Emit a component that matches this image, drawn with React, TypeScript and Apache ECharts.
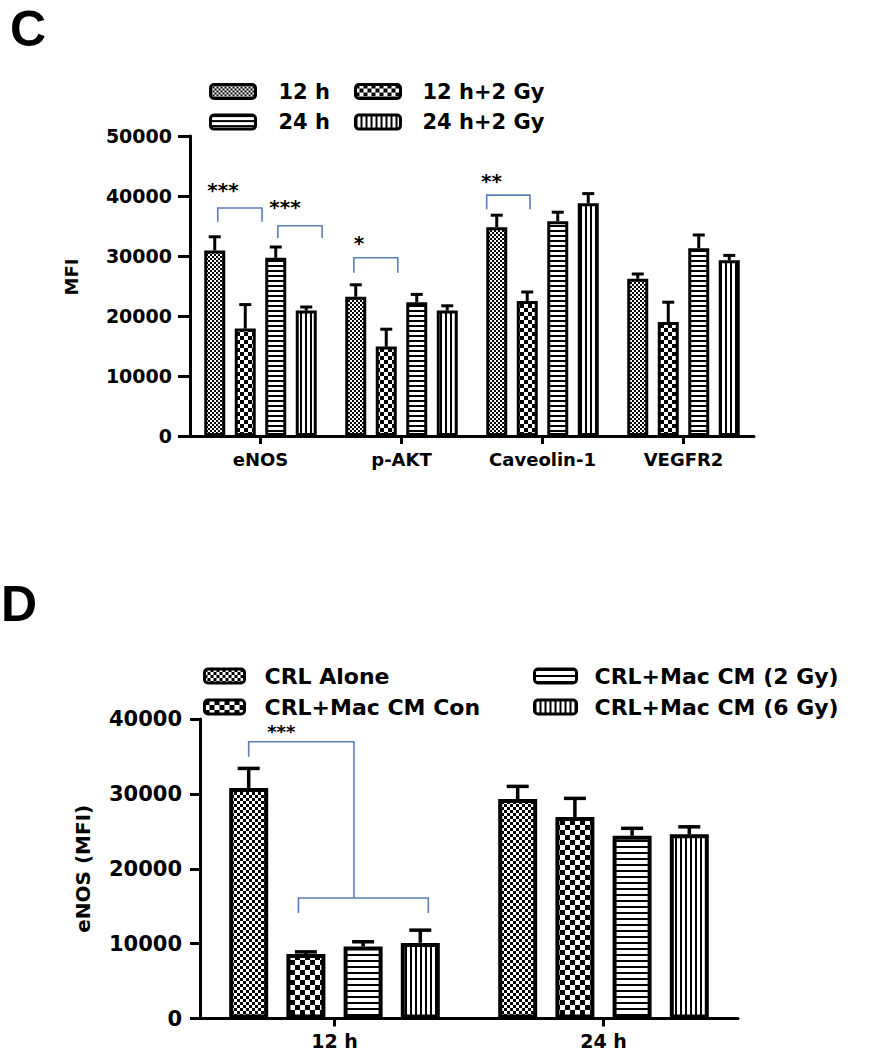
import React, { useEffect, useRef } from 'react';
import * as echarts from 'echarts';

// ---------- Panel C data ----------
const cCategories = ['eNOS', 'p-AKT', 'Caveolin-1', 'VEGFR2'];
const cNames = ['12 h', '12 h+2 Gy', '24 h', '24 h+2 Gy'];
const c12h = [30900, 23200, 34800, 26200];
const c12hErr = [2300, 2000, 2000, 800];
const c12h2Gy = [17900, 14900, 22500, 19000];
const c12h2GyErr = [4000, 2900, 1500, 3300];
const c24h = [29700, 22300, 35800, 31300];
const c24hErr = [1800, 1300, 1500, 2200];
const c24h2Gy = [20900, 20900, 38800, 29300];
const c24h2GyErr = [600, 800, 1600, 800];
const cYMax = 50000;
const cYInterval = 10000;

// significance brackets: [category index, points as [bar position, value]]
const cBracketCats = [0, 0, 1, 2];
const cBracketPts = [
  [[0.1, 35700], [0.1, 38000], [1.55, 38000], [1.55, 35700]],
  [[2.07, 33000], [2.07, 35050], [3.52, 35050], [3.52, 33000]],
  [[-0.06, 27200], [-0.06, 29700], [1.38, 29700], [1.38, 27200]],
  [[-0.33, 37800], [-0.33, 40150], [1.09, 40150], [1.09, 37800]],
];
const cStarText = ['***', '***', '*', '**'];
const cStarPos = [[0.27, 41000], [2.3, 38200], [0.11, 32100], [-0.17, 42500]];

// ---------- Panel D data ----------
const dCategories = ['12 h', '24 h'];
const dNames = ['CRL Alone', 'CRL+Mac CM Con', 'CRL+Mac CM (2 Gy)', 'CRL+Mac CM (6 Gy)'];
const dAlone = [30800, 29300];
const dAloneErr = [2600, 1700];
const dCon = [8600, 26900];
const dConErr = [300, 2500];
const d2Gy = [9600, 24400];
const d2GyErr = [650, 1000];
const d6Gy = [10100, 24600];
const d6GyErr = [1700, 1000];
const dYMax = 40000;
const dYInterval = 10000;

const dBracketCats = [0, 0];
const dBracketPts = [
  [[0, 34970], [0, 36970], [1.84, 36970], [1.84, 16100]],
  [[0.87, 14100], [0.87, 16100], [3.14, 16100], [3.14, 14100]],
];
const dStarText = ['***'];
const dStarPos = [[0.57, 38330]];

const FONT = 'DejaVu Sans';
const BRACKET = '#5b7db8';

function makePattern(kind: string, cell: number, lw: number) {
  const cv = document.createElement('canvas');
  let w = 2 * cell;
  let h = 2 * cell;
  if (kind === 'h') { w = 4; h = cell; }
  if (kind === 'v') { w = cell; h = 4; }
  cv.width = w;
  cv.height = h;
  const ctx = cv.getContext('2d')!;
  ctx.fillStyle = '#fff';
  ctx.fillRect(0, 0, w, h);
  ctx.fillStyle = '#000';
  if (kind === 'checker') {
    ctx.fillRect(0, 0, cell, cell);
    ctx.fillRect(cell, cell, cell, cell);
  } else if (kind === 'h') {
    ctx.fillRect(0, 0, w, lw);
  } else if (kind === 'v') {
    ctx.fillRect(0, 0, lw, h);
  }
  return { image: cv, repeat: 'repeat', imageWidth: w, imageHeight: h } as any;
}

function errSeries(name: string, gi: number, values: number[], errs: number[], idx: number, pitch: number, capW: number, lw: number) {
  const off = (idx - 1.5) * pitch;
  return {
    type: 'custom',
    name,
    xAxisIndex: gi,
    yAxisIndex: gi,
    z: 5,
    clip: false,
    silent: true,
    data: values.map((v, i) => [i, v, errs[i]]),
    encode: { x: 0, y: 1 },
    renderItem: (params: any, api: any) => {
      const base = api.coord([api.value(0), api.value(1)]);
      const top = api.coord([api.value(0), api.value(1) + api.value(2)]);
      const x = base[0] + off;
      return {
        type: 'group',
        children: [
          { type: 'line', shape: { x1: x, y1: base[1], x2: x, y2: top[1] }, style: { stroke: '#000', lineWidth: lw } },
          { type: 'line', shape: { x1: x - capW / 2, y1: top[1], x2: x + capW / 2, y2: top[1] }, style: { stroke: '#000', lineWidth: lw } },
        ],
      };
    },
  };
}

function annotSeries(name: string, gi: number, cats: number[], pts: number[][][], stars: string[], starPos: number[][], starCats: number[], pitch: number, starSize: number) {
  return {
    type: 'custom',
    name,
    xAxisIndex: gi,
    yAxisIndex: gi,
    z: 6,
    clip: false,
    silent: true,
    data: cats.map((c) => [c, 0]),
    encode: { x: 0, y: 1 },
    renderItem: (params: any, api: any) => {
      const i = params.dataIndex;
      const cat = api.value(0);
      const points = pts[i].map(([p, v]) => {
        const c = api.coord([cat, v]);
        return [c[0] + (p - 1.5) * pitch, c[1]];
      });
      const children: any[] = [
        { type: 'polyline', shape: { points }, style: { stroke: BRACKET, lineWidth: 1.6, fill: null } },
      ];
      if (i < stars.length) {
        const sc = api.coord([starCats[i], starPos[i][1]]);
        children.push({
          type: 'text',
          x: sc[0] + (starPos[i][0] - 1.5) * pitch,
          y: sc[1],
          style: {
            text: stars[i],
            fill: '#000',
            font: `bold ${starSize}px "${FONT}"`,
            align: 'center',
            verticalAlign: 'middle',
            textAlign: 'center',
            textVerticalAlign: 'middle',
          },
        });
      }
      return { type: 'group', children };
    },
  };
}

export default function App() {
  const ref = useRef<HTMLDivElement>(null);

  useEffect(() => {
    document.body.style.margin = '0';
    const chart = echarts.init(ref.current!, null, { renderer: 'svg' });

    const cBarW = 21, cPitch = 30.5, cBorder = 3;
    const dBarW = 39, dPitch = 57.2, dBorder = 4;
    const cPatterns = [makePattern('checker', 2, 0), makePattern('checker', 4, 0), makePattern('h', 5, 2), makePattern('v', 5, 2)];
    const dPatterns = [makePattern('checker', 3, 0), makePattern('checker', 5, 0), makePattern('h', 6, 2), makePattern('v', 5, 2)];

    const cVals = [c12h, c12h2Gy, c24h, c24h2Gy];
    const cErrs = [c12hErr, c12h2GyErr, c24hErr, c24h2GyErr];
    const dVals = [dAlone, dCon, d2Gy, d6Gy];
    const dErrs = [dAloneErr, dConErr, d2GyErr, d6GyErr];

    const barSeries = (names: string[], vals: number[][], pats: any[], gi: number, bw: number, pitch: number, border: number) =>
      names.map((n, i) => ({
        type: 'bar',
        name: n,
        xAxisIndex: gi,
        yAxisIndex: gi,
        data: vals[i],
        barWidth: bw,
        barGap: `${((pitch - bw) / bw) * 100}%`,
        itemStyle: { color: pats[i], borderColor: '#000', borderWidth: border },
        emphasis: { disabled: true },
      }));

    const legendBase = (left: number, top: number, data: string[], iw: number, fs: number, pad: number, gap: number) => ({
      orient: 'vertical',
      left,
      top,
      data,
      icon: 'roundRect',
      itemWidth: iw,
      itemHeight: 14,
      itemGap: gap,
      selectedMode: false,
      padding: 0,
      itemStyle: { borderColor: '#000', borderWidth: 3 },
      textStyle: { fontFamily: FONT, fontWeight: 'bold', fontSize: fs, color: '#000', lineHeight: 14, padding: [0, 0, 0, pad] },
    });

    const axisY = (gi: number, max: number, interval: number, name: string, nameGap: number, nameSize: number, labelSize: number, tickLen: number, namePad: number[]) => ({
      type: 'value',
      gridIndex: gi,
      min: 0,
      max,
      interval,
      name,
      nameLocation: 'middle',
      nameGap,
      nameTextStyle: { fontFamily: FONT, fontWeight: 'bold', fontSize: nameSize, color: '#000', padding: namePad },
      splitLine: { show: false },
      axisLine: { show: true, lineStyle: { color: '#000', width: 3 } },
      axisTick: { show: true, length: tickLen, lineStyle: { color: '#000', width: 3 } },
      axisLabel: {
        fontFamily: FONT, fontWeight: 'bold', fontSize: labelSize, color: '#000', margin: 18,
        formatter: (v: number) => String(v),
      },
    });

    const axisX = (gi: number, data: string[], labelSize: number, margin: number, lh: number) => ({
      type: 'category',
      gridIndex: gi,
      data,
      axisLine: { show: true, lineStyle: { color: '#000', width: 3 } },
      axisTick: { show: true, alignWithLabel: true, length: 8, lineStyle: { color: '#000', width: 3 } },
      axisLabel: { fontFamily: FONT, fontWeight: 'bold', fontSize: labelSize, lineHeight: lh, color: '#000', margin, interval: 0 },
    });

    chart.setOption({
      animation: false,
      backgroundColor: '#fff',
      grid: [
        { left: 190, top: 136, width: 564, height: 300 },
        { left: 200, top: 719, width: 538, height: 300 },
      ],
      xAxis: [axisX(0, cCategories, 18, 12, 22), axisX(1, dCategories, 19, 13, 18)],
      yAxis: [
        axisY(0, cYMax, cYInterval, 'MFI', 110, 18, 19, 12, [0, 0, 0, 18]),
        axisY(1, dYMax, dYInterval, 'eNOS (MFI)', 107, 20, 21, 10, [0, 0, 0, 0]),
      ],
      legend: [
        legendBase(209, 81, [cNames[0], cNames[2]], 45, 21, 18, 9.6),
        legendBase(354, 81, [cNames[1], cNames[3]], 45, 21, 17, 9.6),
        legendBase(203, 665, [dNames[0], dNames[1]], 40, 22, 15, 9),
        legendBase(533, 665, [dNames[2], dNames[3]], 42, 22, 13, 9),
      ],
      graphic: [
        { type: 'text', x: 10, y: 29, style: { text: 'C', font: 'bold 50px "Liberation Sans"', fill: '#000', verticalAlign: 'middle', textVerticalAlign: 'middle' } },
        { type: 'text', x: 1, y: 604, style: { text: 'D', font: 'bold 50px "Liberation Sans"', fill: '#000', verticalAlign: 'middle', textVerticalAlign: 'middle' } },
      ],
      series: [
        ...barSeries(cNames, cVals, cPatterns, 0, cBarW, cPitch, cBorder),
        ...cNames.map((n, i) => errSeries('err ' + n, 0, cVals[i], cErrs[i], i, cPitch, 12, 3)),
        annotSeries('sig C', 0, cBracketCats, cBracketPts, cStarText, cStarPos, cBracketCats, cPitch, 20),
        ...barSeries(dNames, dVals, dPatterns, 1, dBarW, dPitch, dBorder),
        ...dNames.map((n, i) => errSeries('err ' + n, 1, dVals[i], dErrs[i], i, dPitch, 22, 3.5)),
        annotSeries('sig D', 1, dBracketCats, dBracketPts, dStarText, dStarPos, [0], dPitch, 18),
      ],
    });

    return () => chart.dispose();
  }, []);

  return <div ref={ref} style={{ width: 872, height: 1050 }} />;
}
